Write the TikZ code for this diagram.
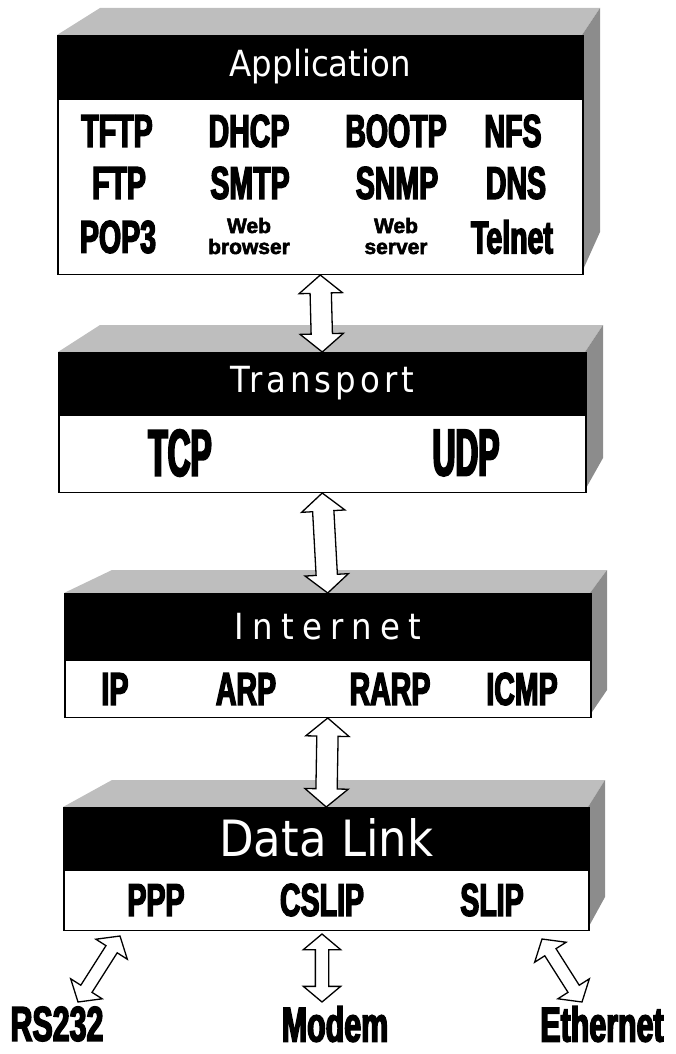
\documentclass[tikz,border=0pt]{standalone}
\usepackage{fontspec}
\usepackage{xcolor}
\usetikzlibrary{calc, shapes.arrows}

\newfontfamily\titlefont[FakeStretch=0.9]{DejaVu Sans}
\newfontfamily\protofont[FakeStretch=0.62, FakeBold=3]{Liberation Sans}
\newfontfamily\tallfont[FakeStretch=0.48, FakeBold=3]{Liberation Sans}
\newfontfamily\smallfont[FakeBold=2.5]{Liberation Sans}

\definecolor{topgray}{HTML}{BEBEBE}
\definecolor{sidegray}{HTML}{8C8C8C}

\tikzset{
	header/.style = {draw, fill = black, text = white, line width = 1.5pt, anchor = north west,
		inner sep = 0pt, minimum height = 62, font = \titlefont\fontsize{36}{36}\selectfont},
	body/.style = {draw, fill = white, line width = 1.5pt, anchor = north, inner sep = 0pt},
	proto/.style = {inner sep = 0pt, font = \protofont\bfseries\fontsize{46}{46}\selectfont},
	tallproto/.style = {inner sep = 0pt, font = \tallfont\bfseries\fontsize{66}{66}\selectfont},
	tinyproto/.style = {inner sep = 0pt, align = center, font = \smallfont\bfseries\fontsize{21}{21}\selectfont},
	port/.style = {inner sep = 0pt, font = \protofont\bfseries\fontsize{49}{49}\selectfont},
	layerarrow/.style = {double arrow, draw, fill = white, line width = 1.3pt, inner xsep = 0pt,
		inner ysep = 10pt, double arrow head extend = 11, double arrow tip angle = 100},
	linkarrow/.style = {layerarrow, inner ysep = 6pt, double arrow head extend = 12}
}

\begin{document}
\begin{tikzpicture}[x = 1pt, y = -1pt]
	\useasboundingbox (0,0) rectangle (675,1054);

	\begin{scope}
		% application
		\fill [topgray] (57,35) -- (100,8) -- (600,8) -- (582,35) -- cycle;
		\fill [sidegray] (582,35) -- (600,8) -- (600,232) -- (582,272) -- cycle;
		\node [header, minimum width = 525] (apphead) at (57,35) {Application};
		\node [body, minimum width = 525, minimum height = 175] (app) at (apphead.south) {};

		% transport
		\fill [topgray] (58,352) -- (100,325) -- (603,325) -- (585,352) -- cycle;
		\fill [sidegray] (585,352) -- (603,325) -- (603,458) -- (585,490) -- cycle;
		\node [header, minimum width = 527, minimum height = 61] (transhead) at (58,352) {\addfontfeatures{LetterSpace=11}Transport};
		\node [body, minimum width = 527, minimum height = 77] (trans) at (transhead.south) {};

		% internet
		\fill [topgray] (64,593) -- (112,570) -- (607,570) -- (590,593) -- cycle;
		\fill [sidegray] (590,593) -- (607,570) -- (607,690) -- (590,715) -- cycle;
		\node [header, minimum width = 526, minimum height = 65] (inethead) at (64,593) {\addfontfeatures{LetterSpace=23}Internet};
		\node [body, minimum width = 526, minimum height = 57] (inet) at (inethead.south) {};

		% data link
		\fill [topgray] (63,807) -- (112,780) -- (605,780) -- (588,807) -- cycle;
		\fill [sidegray] (588,807) -- (605,780) -- (605,897) -- (588,928) -- cycle;
		\node [header, minimum width = 525, minimum height = 61, font = \titlefont\fontsize{50}{50}\selectfont] (dlhead) at (63,807) {Data Link};
		\node [body, minimum width = 525, minimum height = 60] (dl) at (dlhead.south) {};
	\end{scope}

	\begin{scope}
		\node [proto] (tftp) at (117,131) {TFTP};
		\node [proto] (dhcp) at (249,131) {DHCP};
		\node [proto] (bootp) at (396,131) {BOOTP};
		\node [proto] (nfs) at (513,131) {NFS};
		\node [proto] (ftp) at (119,183) {FTP};
		\node [proto] (smtp) at (250,183) {SMTP};
		\node [proto] (snmp) at (397,183) {SNMP};
		\node [proto] (dns) at (516,183) {DNS};
		\node [proto] (pop) at (118,237) {POP3};
		\node [tinyproto] (browser) at (249,236) {Web\\browser};
		\node [tinyproto] (server) at (396,236) {Web\\server};
		\node [proto] (telnet) at (512,237) {Telnet};

		\node [tallproto] (tcp) at (180,453) {TCP};
		\node [tallproto] (udp) at (466,453) {UDP};

		\node [proto] (ip) at (115,689) {IP};
		\node [proto] (arp) at (246,689) {ARP};
		\node [proto] (rarp) at (390,689) {RARP};
		\node [proto] (icmp) at (522,689) {ICMP};

		\node [proto] (ppp) at (156,900) {PPP};
		\node [proto] (cslip) at (322,900) {CSLIP};
		\node [proto] (slip) at (492,900) {SLIP};
	\end{scope}

	\begin{scope}
		\node [port] (rs) at (57,1024) {RS232};
		\node [port] (modem) at (335,1024) {Modem};
		\node [port] (eth) at (602,1024) {Ethernet};

		\coordinate (dl rs) at (120,936);
		\coordinate (rs top) at (78,1002);
		\coordinate (dl modem) at (322,934);
		\coordinate (modem top) at (322,1002);
		\coordinate (dl eth) at (542,939);
		\coordinate (eth top) at (582,1002);
	\end{scope}

	\foreach \a/\b in {app.south/transhead.north, trans.south/inethead.north, inet.south/dlhead.north}
		\path let \p1 = ($(\b) - (\a)$), \n1 = {veclen(\x1,\y1)} in
			(\a) -- (\b) node [layerarrow, midway, sloped, minimum height = \n1] {};

	\foreach \a/\b in {dl rs/rs top, dl modem/modem top, dl eth/eth top}
		\path let \p1 = ($(\b) - (\a)$), \n1 = {veclen(\x1,\y1)} in
			(\a) -- (\b) node [linkarrow, midway, sloped, minimum height = \n1] {};
\end{tikzpicture}
\end{document}
